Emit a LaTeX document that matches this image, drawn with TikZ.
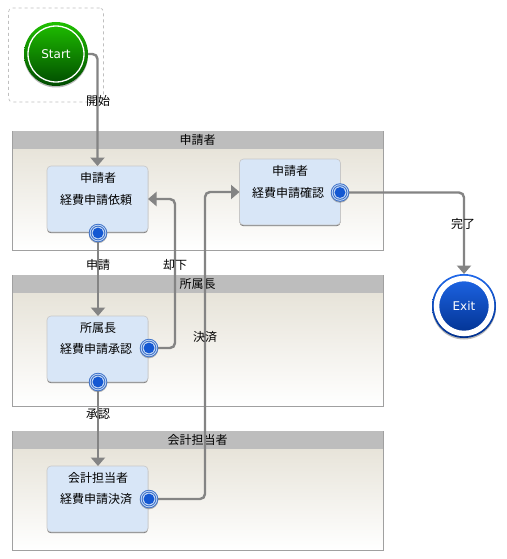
\documentclass[tikz,border=0pt]{standalone}
\usepackage{fontspec}
\setmainfont{Noto Sans CJK JP}
\newfontfamily\latinf{DejaVu Sans}
\usetikzlibrary{arrows.meta,shadows,calc}
\definecolor{lanehead}{HTML}{BDBDBD}
\definecolor{lanetop}{HTML}{E3DFD3}
\definecolor{laneline}{HTML}{A0A0A0}
\definecolor{taskfill}{HTML}{D8E6F7}
\definecolor{conn}{HTML}{848484}
\definecolor{greentop}{HTML}{1FC000}
\definecolor{greenbot}{HTML}{004A00}
\definecolor{exittop}{HTML}{1F68EA}
\definecolor{exitbot}{HTML}{002F8C}
\definecolor{portblue}{HTML}{1458D2}
\definecolor{portring}{HTML}{3A6FC8}
\definecolor{portlight}{HTML}{C4D8F5}
\tikzset{
  x=1pt,y=-1pt,
  every node/.style={font=\fontsize{12}{14}\selectfont,text=black,inner sep=0pt,outer sep=0pt},
  lanebody/.style={rectangle,minimum width=371pt,draw=laneline,line width=.8pt,top color=lanetop,bottom color=white,anchor=north west},
  lanehd/.style={rectangle,minimum width=370pt,minimum height=18pt,fill=lanehead,anchor=north west},
  taskbox/.style={rectangle,rounded corners=4pt,minimum width=101pt,minimum height=66pt,fill=taskfill,draw=black!22,line width=.6pt,
    copy shadow={shadow xshift=0pt,shadow yshift=-1.2pt,fill=black!60,draw=none,opacity=.9}},
  tasktext/.style={anchor=center},
  port/.style={circle,minimum size=18.5pt,draw=none,
    copy shadow={shadow xshift=0pt,shadow yshift=-1pt,fill=black!50,draw=none,opacity=.6},
    fill=portring,
    path picture={
      \fill[portlight] (path picture bounding box.center) circle[radius=8.3pt];
      \fill[portring] (path picture bounding box.center) circle[radius=7.3pt];
      \fill[portlight] (path picture bounding box.center) circle[radius=6.3pt];
      \fill[portblue] (path picture bounding box.center) circle[radius=5.4pt];
    }},
  startev/.style={circle,minimum size=64pt,top color=greentop,bottom color=greenbot,draw=none,
    text=white,font=\latinf\fontsize{12}{14}\selectfont,
    copy shadow={shadow xshift=0pt,shadow yshift=-1.5pt,fill=black!45,draw=none,opacity=.6},
    path picture={\draw[white,line width=1.3pt] (path picture bounding box.center) circle[radius=28pt];}},
  exitev/.style={circle,minimum size=64pt,top color=exittop,bottom color=exitbot,draw=none,
    text=white,font=\latinf\fontsize{12}{14}\selectfont,
    copy shadow={shadow xshift=0pt,shadow yshift=-1.5pt,fill=black!45,draw=none,opacity=.6},
    path picture={\draw[white,line width=5.5pt] (path picture bounding box.center) circle[radius=27.5pt];}},
  flow/.style={draw=conn,line width=2.4pt,rounded corners=5pt,-{Triangle[width=14pt,length=8.5pt,fill=conn]}},
}
\begin{document}
\begin{tikzpicture}
\useasboundingbox (0,0) rectangle (506,559);
\fill[white] (0,0) rectangle (506,559);
% start group
\node[rectangle,draw=black!25,dashed,line width=.7pt,rounded corners=4pt,minimum width=95pt,minimum height=94pt,anchor=north west] (startgroup) at (8.5,8) {};
% lanes
\node[lanebody,minimum height=119pt] (lane1) at (12,131) {};
\node[lanehd] (head1) at (12.5,131) {申請者};
\node[lanebody,minimum height=131pt] (lane2) at (12,275) {};
\node[lanehd] (head2) at (12.5,275) {所属長};
\node[lanebody,minimum height=119pt] (lane3) at (12,431) {};
\node[lanehd] (head3) at (12.5,431) {会計担当者};
% tasks
\node[taskbox] (t1) at (97.5,199) {};
\node[taskbox] (t2) at (290,192) {};
\node[taskbox] (t3) at (97.5,349) {};
\node[taskbox] (t4) at (97.5,499) {};
\node[tasktext] (t1a) at (98,178) {申請者};
\node[tasktext] (t1b) at (96,200) {経費申請依頼};
\node[tasktext] (t2a) at (290,171) {申請者};
\node[tasktext] (t2b) at (288,192.5) {経費申請確認};
\node[tasktext] (t3a) at (98,328) {所属長};
\node[tasktext] (t3b) at (96,349) {経費申請承認};
\node[tasktext] (t4a) at (98,478) {会計担当者};
\node[tasktext] (t4b) at (96,499) {経費申請決済};
% events
\node[startev] (start) at (56,54) {Start};
\node[exitev] (exit) at (464,306) {Exit};
% connector bends
\coordinate (bendA) at (175,300);
\coordinate (bendB) at (205,300);
% ports positions
\coordinate (p1c) at (98,233);
\coordinate (p2c) at (340,192.5);
\coordinate (p3c) at (149,348);
\coordinate (p4c) at (98,382);
\coordinate (p5c) at (149,499);
% connectors
\draw[flow] (start.east) -| (t1.north);
\draw[flow] (p1c) -- (p1c |- t3.north);
\draw[flow] (p3c) -| (bendA) |- (t1.east);
\draw[flow] (p4c) -- (p4c |- t4.north);
\draw[flow] (p5c) -| (bendB) |- (t2.west);
\draw[flow] (p2c) -| (exit.north);
% ports
\node[port] (p1) at (p1c) {};
\node[port] (p2) at (p2c) {};
\node[port] (p3) at (p3c) {};
\node[port] (p4) at (p4c) {};
\node[port] (p5) at (p5c) {};
% labels
\node (l1) at (98,100.5) {開始};
\node (l2) at (98,264.5) {申請};
\node (l3) at (175,264.5) {却下};
\node (l4) at (205,336.5) {決済};
\node (l5) at (98,414.5) {承認};
\node (l6) at (463,224) {完了};
\end{tikzpicture}
\end{document}
